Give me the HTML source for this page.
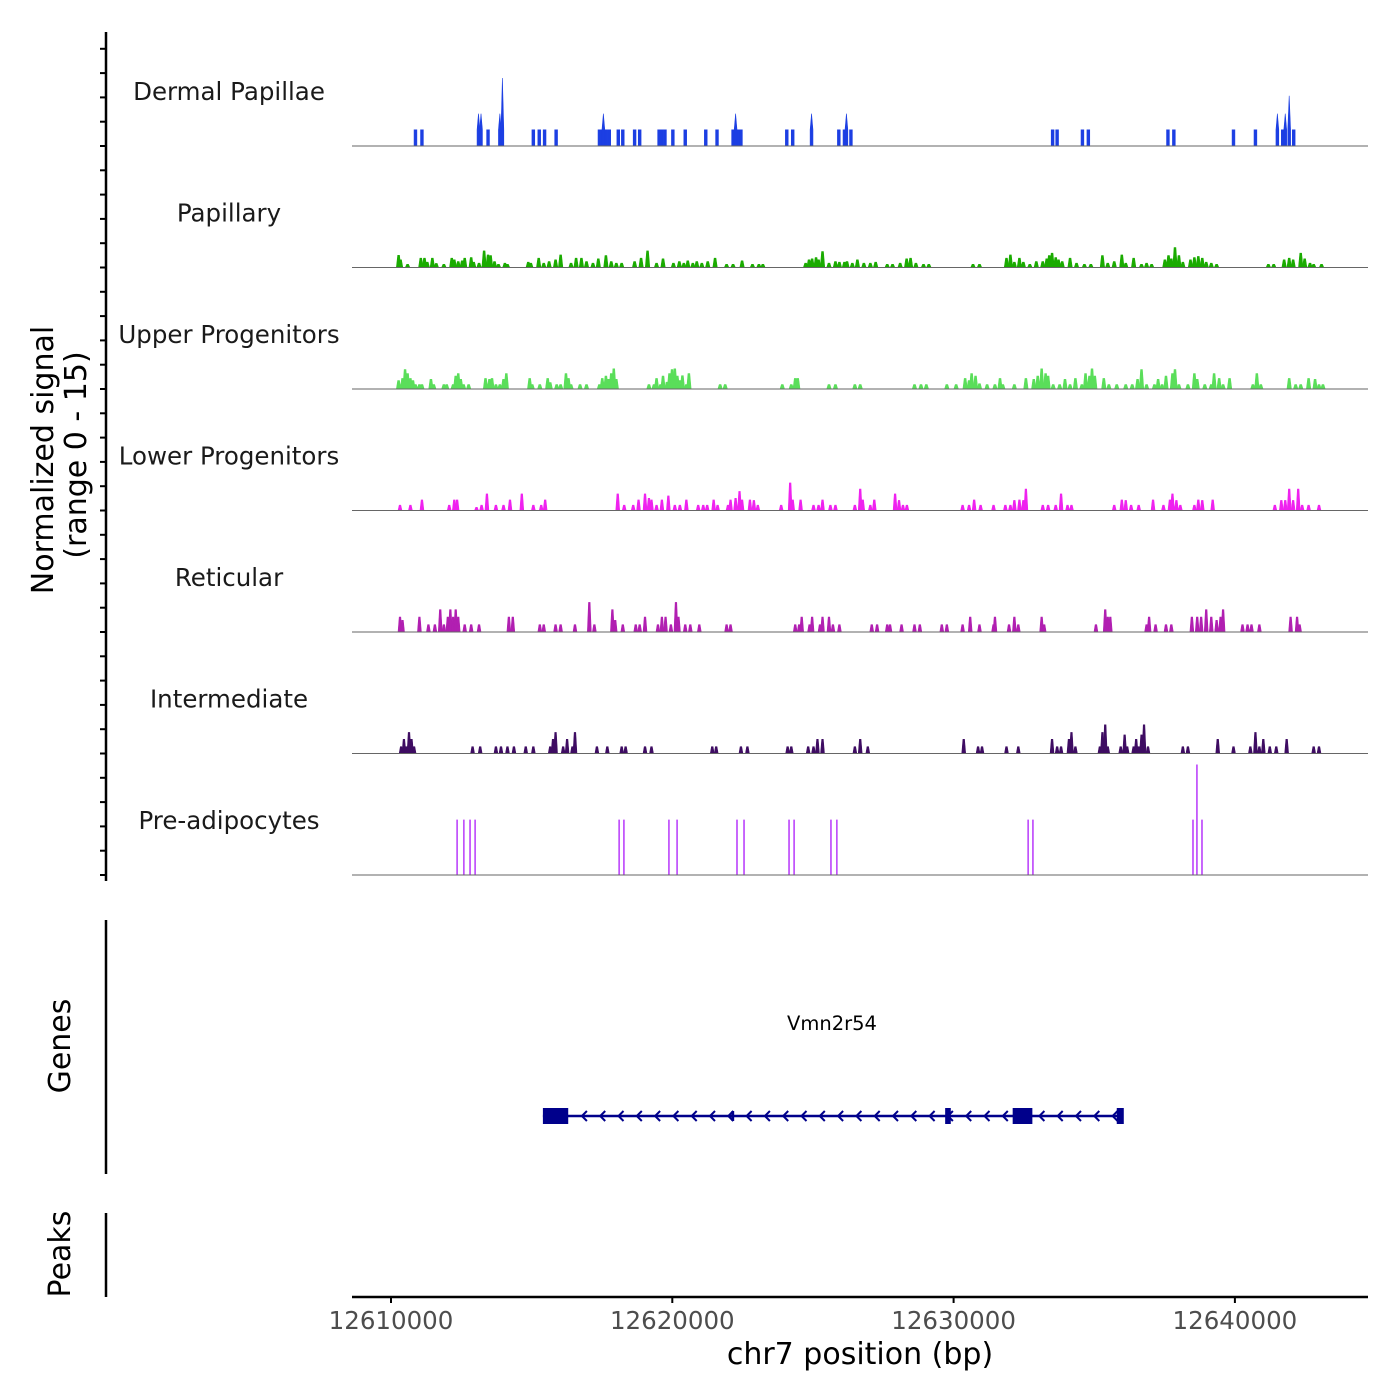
<!DOCTYPE html>
<html><head><meta charset="utf-8"><style>
html,body{margin:0;padding:0;background:#fff;}
svg{display:block;font-family:"DejaVu Sans","Liberation Sans",sans-serif;}
</style></head><body>
<svg id="chart" width="1400" height="1400" viewBox="0 0 1400 1400" xmlns="http://www.w3.org/2000/svg">
<g id="tracks"></g>
<g id="axes"></g>
<g id="gene"></g>
</svg>
<script>
// ---- data (positions: kb offset from 12,600,000; heights: normalized signal) ----
const trackNames = ["Dermal Papillae","Papillary","Upper Progenitors","Lower Progenitors","Reticular","Intermediate","Pre-adipocytes"];
const trackColors = ["#1c3fe3","#1aab00","#5ade5a","#ef22ef","#b11fb1","#3e0c62","#c153fb"];
const xTicks = [12610000,12620000,12630000,12640000];
const yRange = [0,15];

const dpPos = [10.87,11.10,13.11,13.20,13.45,13.87,13.96,15.06,15.27,15.46,15.87,17.41,17.51,17.55,17.65,17.76,18.08,18.24,18.66,18.84,19.53,19.63,19.74,20.02,20.46,21.19,21.59,22.16,22.25,22.35,22.44,24.07,24.28,24.95,25.92,26.12,26.19,26.35,33.52,33.68,34.58,34.79,37.62,37.83,39.95,40.73,41.51,41.70,41.79,41.93,42.09];
const dpVal = [2,2,4,4,2,4,8.4,2,2,2,2,2,2,4,2,2,2,2,2,2,2,2,2,2,2,2,2,2,4,2,2,2,2,4,2,2,4,2,2,2,2,2,2,2,2,2,4,2,4,6.2,2];

const papPos = [10.27,10.34,10.59,11.06,11.19,11.29,11.47,11.61,11.88,12.16,12.25,12.39,12.53,12.62,12.85,12.94,13.13,13.31,13.45,13.54,13.68,13.82,14.05,14.14,14.88,14.97,15.25,15.43,15.62,15.85,16.03,16.40,16.58,16.77,16.95,17.18,17.37,17.64,17.83,18.01,18.20,18.66,18.89,19.12,19.44,19.67,20.04,20.25,20.41,20.55,20.73,20.87,21.05,21.26,21.52,21.93,22.16,22.48,22.85,23.08,23.22,24.74,24.86,24.97,25.11,25.20,25.34,25.57,25.80,25.94,26.12,26.21,26.40,26.58,26.81,27.04,27.23,27.64,27.83,28.10,28.33,28.47,28.66,28.93,29.12,30.69,30.92,31.88,32.02,32.16,32.34,32.48,32.71,32.94,33.17,33.31,33.40,33.50,33.63,33.73,33.86,34.14,34.37,34.65,34.88,35.29,35.48,35.71,35.98,36.12,36.40,36.68,36.86,37.04,37.51,37.64,37.74,37.87,38.01,38.15,38.42,38.56,38.70,38.84,38.98,39.16,39.35,41.19,41.38,41.75,41.93,42.07,42.34,42.48,42.67,42.80,43.08];
const papVal = [1.5,0.95,0.4,1.15,1.15,0.65,1.15,0.5,0.4,1.15,0.95,0.74,0.82,1.15,1.23,0.65,0.53,2.05,1.55,1.48,0.74,0.4,0.53,0.4,0.65,0.53,1.15,0.53,0.74,0.95,1.55,0.53,1.15,1.15,0.74,0.53,1.07,1.48,0.74,0.53,0.53,0.74,1.15,2.05,0.53,1.07,0.53,0.74,0.53,0.82,0.53,0.74,0.53,0.74,1.15,0.4,0.4,0.82,0.4,0.4,0.4,0.53,0.95,1.07,1.23,0.95,1.97,0.53,0.74,0.65,0.65,0.74,0.53,0.95,0.53,0.53,0.65,0.4,0.4,0.53,1.07,1.15,0.53,0.4,0.4,0.4,0.4,1.15,1.55,0.65,1.15,0.65,0.4,0.74,0.74,1.07,1.48,1.77,1.23,0.95,0.74,1.15,0.53,0.4,0.4,1.48,0.53,0.74,1.55,0.53,1.15,0.4,0.53,0.4,0.95,1.48,1.07,2.47,1.48,0.65,0.95,1.23,1.36,1.15,0.65,0.53,0.4,0.4,0.4,0.95,1.15,0.95,1.77,1.07,0.53,0.4,0.4];

const upPos = [10.27,10.41,10.50,10.59,10.69,10.78,10.87,11.01,11.10,11.42,11.52,11.88,11.98,12.21,12.30,12.39,12.48,12.58,12.76,13.36,13.50,13.59,13.73,13.87,14.00,14.10,14.93,15.02,15.29,15.57,15.66,15.89,16.03,16.22,16.31,16.40,16.72,16.95,17.41,17.51,17.64,17.74,17.83,17.92,18.01,19.17,19.35,19.44,19.58,19.67,19.81,19.90,19.99,20.09,20.18,20.27,20.36,20.50,20.59,21.70,21.88,23.91,24.23,24.37,24.46,25.57,25.80,26.49,26.68,28.61,28.84,29.03,29.76,30.09,30.41,30.55,30.64,30.78,30.92,31.19,31.47,31.65,31.75,32.16,32.57,32.85,32.99,33.13,33.27,33.36,33.54,33.77,33.96,34.14,34.33,34.56,34.69,34.83,34.92,35.02,35.34,35.52,35.80,36.12,36.35,36.54,36.68,36.86,37.14,37.27,37.41,37.55,37.78,37.87,38.01,38.33,38.56,38.66,38.93,39.16,39.26,39.44,39.58,39.81,40.64,40.78,40.92,41.93,42.16,42.34,42.62,42.85,42.99,43.13];
const upVal = [1.05,1.3,2.4,1.9,1.3,1.05,0.55,0.55,0.55,1.2,0.55,0.55,0.55,0.55,1.6,1.9,1.2,0.55,0.55,1.3,1.2,1.3,0.55,0.55,1.2,1.9,1.3,0.55,0.55,1.3,0.8,0.55,0.55,1.9,1.3,0.55,0.55,0.55,0.55,1.3,1.6,1.2,1.9,2.5,1.2,0.55,0.55,1.3,0.55,1.6,0.85,1.9,2.4,2.5,1.6,1.05,1.65,0.55,1.9,0.55,0.55,0.55,0.55,1.3,1.3,0.55,0.55,0.55,0.55,0.55,0.55,0.55,0.55,0.55,1.3,1.05,1.9,1.6,0.65,0.55,0.55,1.3,0.55,0.55,1.3,1.2,1.6,2.5,1.9,1.6,0.55,0.55,1.2,0.55,1.3,0.55,1.9,1.6,2.5,1.6,1.3,0.55,0.55,0.55,0.55,1.2,2.4,0.55,0.55,1.2,0.55,1.6,1.9,2.4,0.55,0.55,1.9,1.2,0.55,0.55,1.9,1.3,0.55,1.3,0.55,1.9,0.55,1.3,0.55,0.55,1.3,1.2,0.55,0.55];

const lpPos = [10.32,10.69,11.10,12.07,12.25,12.35,13.04,13.22,13.41,13.73,14.00,14.23,14.65,15.06,15.34,15.48,18.06,18.29,18.61,18.80,19.03,19.17,19.26,19.44,19.63,19.86,20.09,20.27,20.50,20.92,21.10,21.24,21.47,21.61,21.98,22.07,22.25,22.39,22.48,22.76,22.90,23.04,23.87,24.19,24.28,24.56,25.02,25.20,25.34,25.62,25.80,26.49,26.68,26.77,27.04,27.18,27.92,28.06,28.20,28.34,30.32,30.55,30.73,30.96,31.42,31.84,32.02,32.16,32.34,32.48,32.57,33.17,33.36,33.63,33.82,34.05,34.19,35.71,35.98,36.12,36.31,36.58,37.09,37.46,37.69,37.78,37.92,38.06,38.56,38.70,38.84,39.21,41.42,41.65,41.79,41.93,42.07,42.25,42.39,42.62,42.99];
const lpVal = [0.65,0.65,1.3,0.65,1.3,1.3,0.4,0.65,2.05,0.65,0.65,1.3,2.05,0.65,0.65,1.3,2.05,0.65,0.65,1.3,2.05,1.5,1.3,0.65,1.3,1.8,0.65,0.65,1.3,0.65,0.65,0.65,1.3,0.65,0.65,1.3,1.5,2.35,1.3,1.3,1.25,0.65,0.65,3.4,1.3,1.3,0.65,0.65,1.3,0.65,0.65,0.65,2.65,1.3,0.65,1.3,2.05,1.25,0.65,0.65,0.65,0.65,1.3,0.65,0.65,0.65,0.65,1.25,1.3,1.25,2.65,0.65,0.65,0.65,2.05,0.65,0.65,0.65,1.3,1.25,0.65,0.65,1.3,0.65,1.3,2.05,1.25,0.65,0.65,1.3,1.25,1.3,0.65,1.25,1.25,2.65,1.25,2.65,0.65,0.65,0.65];

const retPos = [10.32,10.41,11.01,11.33,11.56,11.75,11.88,12.02,12.11,12.21,12.30,12.39,12.62,12.85,13.13,14.19,14.33,15.29,15.43,15.85,16.03,16.54,17.05,17.23,17.87,17.97,18.24,18.70,18.84,19.03,19.49,19.63,19.76,19.95,20.13,20.22,20.46,20.64,20.96,21.93,22.07,24.37,24.51,24.60,24.88,24.97,25.25,25.34,25.57,25.71,25.94,27.09,27.28,27.64,27.74,28.15,28.61,28.80,29.58,29.76,30.32,30.59,30.92,31.42,31.47,31.97,32.16,32.30,33.13,33.22,35.06,35.39,35.48,35.57,36.86,36.95,37.18,37.55,37.74,38.47,38.66,38.80,38.98,39.16,39.35,39.49,39.58,40.27,40.45,40.59,40.87,41.98,42.21,42.30];
const retVal = [1.85,1.45,1.85,0.9,0.9,2.75,0.9,1.85,2.75,1.85,2.75,1.85,0.9,0.9,0.9,1.85,1.85,0.9,0.9,0.9,0.9,0.9,3.65,0.9,2.75,1.45,0.9,0.9,0.9,1.85,0.9,1.85,1.85,0.9,3.65,1.85,0.9,0.9,0.9,0.9,0.9,0.9,0.9,1.85,0.9,1.85,0.9,1.85,1.85,0.9,0.9,0.9,0.9,0.9,0.9,0.9,0.9,0.9,0.9,0.9,0.9,1.85,0.9,0.9,1.85,0.9,1.85,0.9,1.85,0.9,0.9,2.75,1.85,1.85,0.9,1.85,0.9,0.9,0.9,1.85,1.85,1.85,2.75,1.85,1.45,1.85,2.75,0.9,0.9,0.9,0.9,1.85,1.85,0.9];

const intPos = [10.36,10.46,10.55,10.64,10.73,10.82,12.90,13.17,13.73,13.91,14.14,14.37,14.79,15.06,15.66,15.76,15.85,16.12,16.26,16.45,16.54,17.32,17.69,18.20,18.34,19.03,19.26,21.42,21.56,22.44,22.67,24.10,24.23,24.83,25.02,25.16,25.34,26.49,26.68,26.95,30.36,30.87,31.01,31.88,32.30,33.50,33.68,33.82,34.10,34.19,34.33,35.20,35.29,35.39,35.48,35.94,36.08,36.17,36.40,36.49,36.58,36.68,36.77,36.91,38.15,38.33,39.39,39.95,40.55,40.73,40.87,41.01,41.24,41.47,41.84,42.80,42.99];
const intVal = [0.85,1.75,0.85,2.6,1.75,0.85,0.85,0.85,0.85,0.85,0.85,0.85,0.85,0.85,0.85,1.75,2.6,0.85,1.75,0.85,2.6,0.85,0.85,0.85,0.85,0.85,0.85,0.85,0.85,0.85,0.85,0.85,0.85,0.85,0.85,1.75,1.75,0.85,1.75,0.85,1.75,0.85,0.85,0.85,0.85,1.75,0.85,0.85,1.75,2.6,0.85,0.85,2.6,3.55,0.85,0.85,2.3,0.85,0.85,1.75,0.85,2.3,3.55,0.85,0.85,0.85,1.75,0.85,0.85,2.6,0.85,1.75,0.85,0.85,1.75,0.85,0.85];

const prePos = [12.35,12.59,12.81,12.99,18.11,18.28,19.88,20.17,22.30,22.55,24.15,24.33,25.64,25.85,32.65,32.82,38.51,38.65,38.83];
const preVal = [6.8,6.8,6.8,6.8,6.8,6.8,6.8,6.8,6.8,6.8,6.8,6.8,6.8,6.8,6.8,6.8,6.8,13.6,6.8];

const geneStart = 12615400, geneEnd = 12636000;
const exonStarts = [12615400,12622100,12629700,12632100,12635800];
const exonEnds   = [12616300,12622200,12629900,12632800,12636050];
const exonThick  = [1,0,1,1,1];

// ---- scales ----
const X0 = 352, X1 = 1368;
const xScale = bp => 391 + (bp - 12610000) * (281.3 / 10000);
const kbToBp = k => 12600000 + k * 1000;
const trackH = 121.5, firstBase = 146;
const baseY = i => firstBase + i * trackH;
const yScale = (i, v) => baseY(i) - (v - yRange[0]) / (yRange[1] - yRange[0]) * trackH;

const NS = "http://www.w3.org/2000/svg";
function mk(tag, attrs, parent) {
  const e = document.createElementNS(NS, tag);
  for (const k in attrs) e.setAttribute(k, attrs[k]);
  parent.appendChild(e);
  return e;
}
const tracksG = document.getElementById('tracks');
const axesG = document.getElementById('axes');
const geneG = document.getElementById('gene');

const seriesPos = [dpPos, papPos, upPos, lpPos, retPos, intPos, prePos];
const seriesVal = [dpVal, papVal, upVal, lpVal, retVal, intVal, preVal];
const halfW = [0.05, 0.08, 0.08, 0.07, 0.07, 0.07, 0.02];

for (let i = 0; i < 7; i++) {
  const g = mk('g', {}, tracksG);
  
  
  const lbl = mk('text', {x: 229, y: baseY(i) - 46, 'text-anchor': 'middle', 'font-size': 24.5, fill: '#1a1a1a'}, g);
  lbl.textContent = trackNames[i];
  
  
  const pos = seriesPos[i], val = seriesVal[i];
  for (let j = 0; j < pos.length; j++) {
    const c = kbToBp(pos[j]);
    const hw = halfW[i] * 1000;
    const xl = xScale(c - hw), xr = xScale(c + hw), xm = xScale(c);
    const yb = baseY(i), yt = yScale(i, val[j]);
    let pts;
    if (i === 0) pts = `${xl},${yb} ${xl},${yScale(i, Math.min(val[j], 2))} ${xm},${yt} ${xr},${yScale(i, Math.min(val[j], 2))} ${xr},${yb}`;
    else if (i === 6) pts = `${xl},${yb} ${xl},${yt} ${xr},${yt} ${xr},${yb}`;
    else pts = `${xl},${yb} ${xl + (xr - xl) * 0.3},${yt} ${xr - (xr - xl) * 0.3},${yt} ${xr},${yb}`;
    const p = mk('polygon', {points: pts, fill: trackColors[i], stroke: trackColors[i], 'stroke-width': 0.6}, g);
    
    
  }
  const bl = mk('line', {x1: X0, x2: X1, y1: baseY(i), y2: baseY(i), stroke: '#666', 'stroke-width': 1}, g);
  
  
  for (let v = 0; v <= 15; v += 3) {
    const ty = yScale(i, v);
    if (ty < 32) continue;
    const t = mk('line', {x1: 100, x2: 106, y1: ty, y2: ty, stroke: '#000', 'stroke-width': 2}, axesG);
    
    
  }
}
const ya = mk('line', {x1: 106, x2: 106, y1: 32, y2: 881, stroke: '#000', 'stroke-width': 2.5}, axesG);


const ga = mk('line', {x1: 106, x2: 106, y1: 920, y2: 1174, stroke: '#000', 'stroke-width': 2.5}, axesG);


const pa = mk('line', {x1: 106, x2: 106, y1: 1213, y2: 1297, stroke: '#000', 'stroke-width': 2.5}, axesG);


const yt1 = mk('text', {transform: 'translate(53,460) rotate(-90)', 'text-anchor': 'middle', 'font-size': 30, fill: '#000'}, axesG);
yt1.textContent = 'Normalized signal';


const yt2 = mk('text', {transform: 'translate(86,455) rotate(-90)', 'text-anchor': 'middle', 'font-size': 30, fill: '#000'}, axesG);
yt2.textContent = '(range 0 - 15)';


const gt = mk('text', {transform: 'translate(70,1046) rotate(-90)', 'text-anchor': 'middle', 'font-size': 30, fill: '#000'}, axesG);
gt.textContent = 'Genes';


const pt = mk('text', {transform: 'translate(70,1254) rotate(-90)', 'text-anchor': 'middle', 'font-size': 30, fill: '#000'}, axesG);
pt.textContent = 'Peaks';


const xa = mk('line', {x1: X0, x2: X1, y1: 1297, y2: 1297, stroke: '#000', 'stroke-width': 2.5}, axesG);


xTicks.forEach(t => {
  const x = xScale(t);
  const tk = mk('line', {x1: x, x2: x, y1: 1297, y2: 1303, stroke: '#000', 'stroke-width': 2}, axesG);
  
  
  const tl = mk('text', {x: x, y: 1329, 'text-anchor': 'middle', 'font-size': 24.5, fill: '#4d4d4d'}, axesG);
  tl.textContent = String(t);
  
  
});
const xt = mk('text', {x: 860, y: 1364, 'text-anchor': 'middle', 'font-size': 30, fill: '#000'}, axesG);
xt.textContent = 'chr7 position (bp)';



const gy = 1116, gc = '#00008b';
const gl = mk('line', {x1: xScale(geneStart), x2: xScale(geneEnd), y1: gy, y2: gy, stroke: gc, 'stroke-width': 2.5}, geneG);


for (let k = 0; k < exonStarts.length; k++) {
  const xs = xScale(exonStarts[k]), xe = xScale(exonEnds[k]);
  const h = exonThick[k] ? 16 : 10;
  const r = mk('rect', {x: xs, y: gy - h / 2, width: Math.max(xe - xs, 2), height: h, fill: gc}, geneG);
  
  
}
for (let x = xScale(geneStart) + 40; x < xScale(geneEnd) - 8; x += 18.3) {
  const a = mk('polyline', {points: `${x + 4},${gy - 5} ${x - 1},${gy} ${x + 4},${gy + 5}`, fill: 'none', stroke: gc, 'stroke-width': 2}, geneG);
  
  
}
const gn = mk('text', {x: 832, y: 1030, 'text-anchor': 'middle', 'font-size': 19.5, fill: '#000'}, geneG);
gn.textContent = 'Vmn2r54';


</script>
</body></html>
